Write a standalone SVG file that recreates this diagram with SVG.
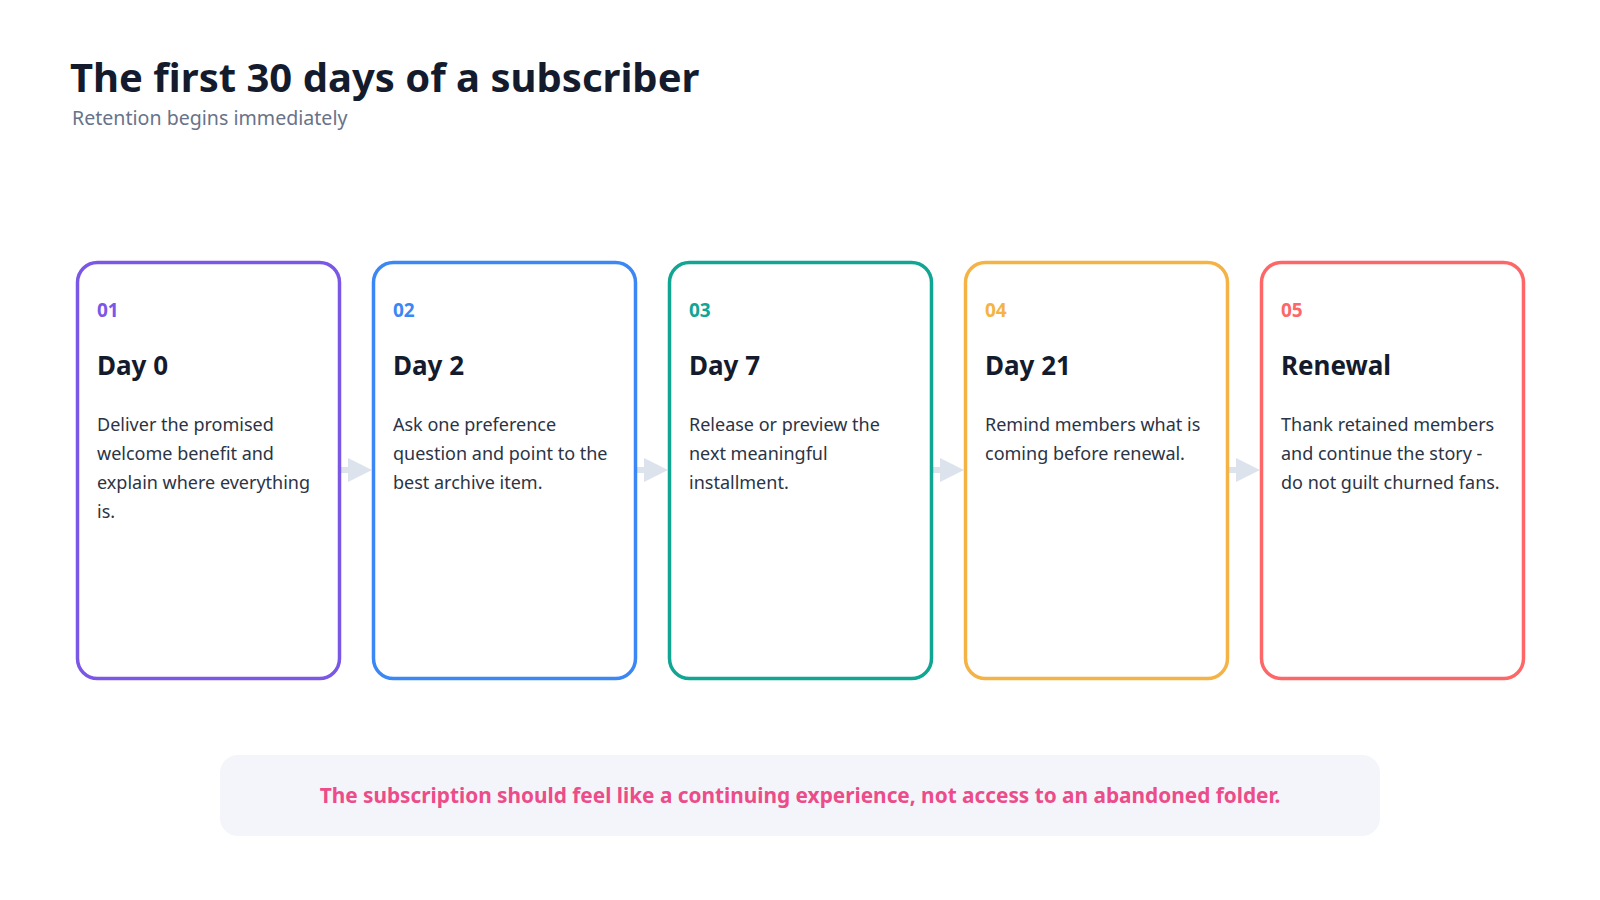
<svg xmlns="http://www.w3.org/2000/svg" width="1600" height="900" viewBox="0 0 1600 900">
<style>
text{font-family:"Noto Sans","Open Sans","Liberation Sans",sans-serif}
.title{font-size:40px;font-weight:700;fill:#141b2d}
.sub{font-size:19.6px;fill:#687389}
.card{fill:#ffffff;stroke-width:3.5}
.num{font-size:19px;font-weight:700}
.head{font-size:26px;font-weight:700;fill:#141b2d}
.body{font-size:18px;fill:#2b3445}
.conn line{stroke:#dde3ec;stroke-width:6}
.conn polygon{fill:#dde3ec}
.note{font-size:20.8px;font-weight:700;fill:#ec4c89}
</style>
<rect width="1600" height="900" fill="#ffffff"/>
<g id="header">
<text class="title" x="70" y="92">The first 30 days of a subscriber</text>
<text class="sub" x="72" y="125">Retention begins immediately</text>
</g>
<g id="connectors" class="conn">
<line x1="340" y1="470" x2="356" y2="470"/><polygon points="348,458 372,470 348,482"/>
<line x1="636" y1="470" x2="652" y2="470"/><polygon points="644,458 668,470 644,482"/>
<line x1="932" y1="470" x2="948" y2="470"/><polygon points="940,458 964,470 940,482"/>
<line x1="1228" y1="470" x2="1244" y2="470"/><polygon points="1236,458 1260,470 1236,482"/>
</g>
<g id="card1">
<rect class="card" x="77.5" y="262.5" width="262" height="416" rx="20" stroke="#7b57e6"/>
<text class="num" x="97" y="317" fill="#7b57e6">01</text>
<text class="head" x="97" y="375">Day 0</text>
<text class="body" x="97" y="431">Deliver the promised</text>
<text class="body" x="97" y="460">welcome benefit and</text>
<text class="body" x="97" y="489">explain where everything</text>
<text class="body" x="97" y="518">is.</text>
</g>
<g id="card2">
<rect class="card" x="373.5" y="262.5" width="262" height="416" rx="20" stroke="#3b87f6"/>
<text class="num" x="393" y="317" fill="#3b87f6">02</text>
<text class="head" x="393" y="375">Day 2</text>
<text class="body" x="393" y="431">Ask one preference</text>
<text class="body" x="393" y="460">question and point to the</text>
<text class="body" x="393" y="489">best archive item.</text>
</g>
<g id="card3">
<rect class="card" x="669.5" y="262.5" width="262" height="416" rx="20" stroke="#11a594"/>
<text class="num" x="689" y="317" fill="#11a594">03</text>
<text class="head" x="689" y="375">Day 7</text>
<text class="body" x="689" y="431">Release or preview the</text>
<text class="body" x="689" y="460">next meaningful</text>
<text class="body" x="689" y="489">installment.</text>
</g>
<g id="card4">
<rect class="card" x="965.5" y="262.5" width="262" height="416" rx="20" stroke="#f4b344"/>
<text class="num" x="985" y="317" fill="#f4b344">04</text>
<text class="head" x="985" y="375">Day 21</text>
<text class="body" x="985" y="431">Remind members what is</text>
<text class="body" x="985" y="460">coming before renewal.</text>
</g>
<g id="card5">
<rect class="card" x="1261.5" y="262.5" width="262" height="416" rx="20" stroke="#fd6767"/>
<text class="num" x="1281" y="317" fill="#fd6767">05</text>
<text class="head" x="1281" y="375">Renewal</text>
<text class="body" x="1281" y="431">Thank retained members</text>
<text class="body" x="1281" y="460">and continue the story -</text>
<text class="body" x="1281" y="489">do not guilt churned fans.</text>
</g>
<g id="note">
<rect x="220" y="755" width="1160" height="81" rx="18" fill="#f4f5fa"/>
<text class="note" x="800" y="803" text-anchor="middle">The subscription should feel like a continuing experience, not access to an abandoned folder.</text>
</g>
</svg>
